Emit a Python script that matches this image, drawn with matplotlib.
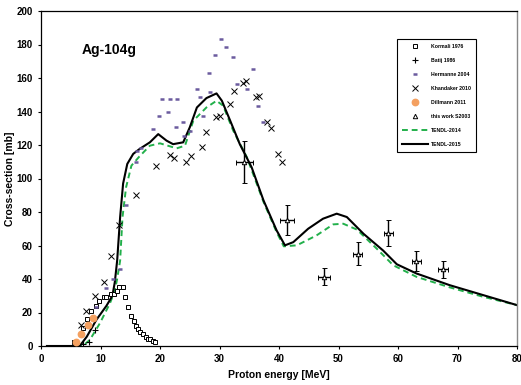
import matplotlib
matplotlib.use("Agg")
import matplotlib.pyplot as plt
from matplotlib.lines import Line2D

plt.rcParams['font.family'] = ['Liberation Sans', 'DejaVu Sans']
plt.rcParams['font.weight'] = 'bold'

# ---- data ----
kormali_E = [5.6, 7.0, 7.7, 8.4, 9.2, 9.8, 10.6, 11.0, 11.7, 12.2, 12.7, 13.1, 13.8,
             14.1, 14.7, 15.1, 15.7, 16.0, 16.3, 16.7, 17.1, 17.6, 18.0, 18.3, 18.8, 19.2]
kormali_Y = [2.6, 11, 16, 21, 24, 27, 29, 29, 31, 31, 33, 35, 35,
             29, 23, 18, 15, 12, 10, 8.6, 7, 5.6, 4.4, 4, 3.2, 2.4]

batij_E = [7.0, 8.1, 9.0]
batij_Y = [1.0, 2.5, 9.5]

hermanne_E = [9.3, 11.0, 12.1, 13.2, 14.3, 16.0, 16.1, 16.8, 18.9, 19.9, 20.3, 21.7, 22.8,
              21.4, 22.7, 23.9, 24.0, 25.0, 26.2, 26.7, 27.3, 28.4, 28.2, 29.2, 30.2, 31.1,
              32.2, 32.9, 34.7, 35.7, 36.5, 37.3]
hermanne_Y = [23, 34.5, 40, 46, 84, 110, 116.7, 118.5, 129.6, 137.5, 147.2, 147.2, 147.2,
              139.5, 130.5, 133.5, 125.6, 128.6, 153.4, 148.4, 137.5, 151.4, 162.7, 173.6, 183.5, 178.6,
              172.6, 156.4, 153.4, 165.6, 143.5, 133.5]

khandaker_E = [6.7, 7.6, 9.1, 10.6, 11.7, 13.1, 16.0, 19.3, 21.6, 22.4, 24.4, 25.2, 27.0,
               27.7, 29.4, 30.0, 31.8, 32.4, 34.0, 34.5, 36.1, 36.7, 37.9, 38.6, 39.9, 40.5]
khandaker_Y = [12.6, 21, 30, 38, 53.6, 72, 90.3, 107.7, 114.3, 112.3, 109.7, 113.7, 118.6,
               127.6, 136.5, 137.5, 144.5, 152, 157, 158, 148.8, 149.4, 133.5, 130.2, 114.7, 109.7]

dillmann_E = [5.8, 6.8, 7.9, 8.8]
dillmann_Y = [2.2, 7.0, 12.5, 16.5]

thiswork_E = [34.2, 41.3, 47.6, 53.2, 58.4, 63.1, 67.6]
thiswork_Y = [109.7, 75.0, 41.3, 55.2, 67.7, 50.8, 45.8]
thiswork_dY = [12.5, 9.0, 5.0, 7.0, 7.7, 6.0, 5.0]
thiswork_dE = [1.5, 1.2, 1.0, 0.8, 0.8, 0.8, 0.8]

tendl15_E = [1, 6.5, 7.7, 9.3, 11.0, 12.0, 12.4, 12.8, 13.3, 13.8, 14.5, 15.5, 16.6, 18.3,
             19.7, 21.1, 22.2, 23.9, 25.0, 26.2, 27.8, 29.5, 30.4, 31.8, 33.4, 35.4, 37.4,
             39.6, 41.0, 42.4, 44.9, 47.4, 49.7, 51.4, 54.2, 57.5, 59.8, 63.1, 68.7, 74.3, 80]
tendl15_Y = [0, 0, 5.6, 15.6, 24, 30, 38, 51, 77, 97, 108.7, 114.7, 117.7, 121.6,
             126.5, 122.6, 120.5, 121.6, 130.5, 142.4, 148, 150.8, 146.4, 134.5, 120.6, 106.7, 86.9,
             69, 60.1, 62, 70, 76, 79, 77, 67, 57, 48.8, 43.3, 36.3, 30.4, 24.4]

tendl14_E = [1, 7.0, 8.2, 9.9, 11.6, 12.4, 12.8, 13.3, 13.7, 14.3, 15.2, 16.5, 18.3, 20.0,
             22.8, 24.2, 25.6, 27.8, 29.5, 30.6, 32.3, 34.6, 37.4, 39.6, 40.8, 43.0, 46.3,
             49.1, 50.8, 53.1, 56.4, 59.2, 63.1, 68.7, 74.3, 80]
tendl14_Y = [0, 0, 3.6, 13.6, 25.6, 33, 40, 51, 77, 94.8, 107.7, 113, 119.6, 121,
             118, 119.6, 134.5, 142.4, 146.4, 143.5, 128.6, 112.7, 86, 68, 59.5, 60.1, 66,
             72.6, 73, 69.5, 58.2, 48.2, 41.3, 35, 29.4, 24.4]

xticks = [0, 10, 20, 30, 40, 50, 60, 70, 80]
yticks = [0, 20, 40, 60, 80, 100, 120, 140, 160, 180, 200]

# ---- figure ----
fig = plt.figure(figsize=(5.21, 3.85), dpi=100)
ax = fig.add_axes([41/521, 39/385, (517-41)/521, (346-11)/385])

h1, = ax.plot(kormali_E, kormali_Y, linestyle='none', marker='s', ms=3.2, mfc='white',
              mec='black', mew=0.7, label='Kormali 1976', zorder=3)
h2, = ax.plot(batij_E, batij_Y, linestyle='none', marker='+', ms=4, mec='black', mew=0.8,
              label='Batij 1986', zorder=3)
h3, = ax.plot(hermanne_E, hermanne_Y, linestyle='none', marker='_', ms=3.5, mec='#6b5b9e',
              mew=1.8, label='Hermanne 2004', zorder=3)
h4, = ax.plot(khandaker_E, khandaker_Y, linestyle='none', marker='x', ms=4, mec='black',
              mew=0.7, label='Khandaker 2010', zorder=3)
h5, = ax.plot(dillmann_E, dillmann_Y, linestyle='none', marker='o', ms=4.6, mfc='#f4a060',
              mec='#f4a060', label='Dillmann 2011', zorder=3)
ax.errorbar(thiswork_E, thiswork_Y, yerr=thiswork_dY, xerr=thiswork_dE, fmt='^', ms=3.2,
            mfc='white', mec='black', mew=0.7, ecolor='black', elinewidth=1.0, capsize=1.8,
            capthick=0.8, zorder=4)
h6 = Line2D([], [], linestyle='none', marker='^', ms=3.2, mfc='white', mec='black', mew=0.7)
h7, = ax.plot(tendl14_E, tendl14_Y, color='#22b04b', lw=1.4, linestyle=(0, (3, 2)),
              label='TENDL-2014', zorder=2)
h8, = ax.plot(tendl15_E, tendl15_Y, color='black', lw=1.5, label='TENDL-2015', zorder=2)

ax.set_xlim(0, 80)
ax.set_ylim(0, 200)
ax.set_xticks(xticks)
ax.set_yticks(yticks)
ax.tick_params(axis='both', labelsize=7, direction='out', length=2.5, width=0.8)
for lbl in ax.get_xticklabels() + ax.get_yticklabels():
    lbl.set_fontweight('bold')
ax.spines['right'].set_color('#888888')
ax.spines['right'].set_linewidth(1.0)
for s in ['left', 'bottom', 'top']:
    ax.spines[s].set_linewidth(0.9)

ax.set_xlabel('Proton energy [MeV]', fontsize=7.5, fontweight='bold', labelpad=4)
ax.set_ylabel('Cross-section [mb]', fontsize=7.5, fontweight='bold', labelpad=1)

ax.text(6.9, 177, 'Ag-104g', fontsize=10, fontweight='bold', ha='left', va='center')

handles = [h1, h2, h3, h4, h5, h6, h7, h8]
labels = ['Kormali 1976', 'Batij 1986', 'Hermanne 2004', 'Khandaker 2010',
          'Dillmann 2011', 'this work S2003', 'TENDL-2014', 'TENDL-2015']
leg = fig.legend(handles, labels, loc='upper left', bbox_to_anchor=(397/521, 1 - 39/385),
                 fontsize=3.7, frameon=True, fancybox=False, edgecolor='black',
                 framealpha=1, numpoints=1, handlelength=5.0, labelspacing=1.75,
                 borderpad=1.0, handletextpad=0.6, borderaxespad=0)
leg.get_frame().set_linewidth(0.8)
for t in leg.get_texts():
    t.set_fontweight('bold')

fig.savefig('out.png', dpi=100)
